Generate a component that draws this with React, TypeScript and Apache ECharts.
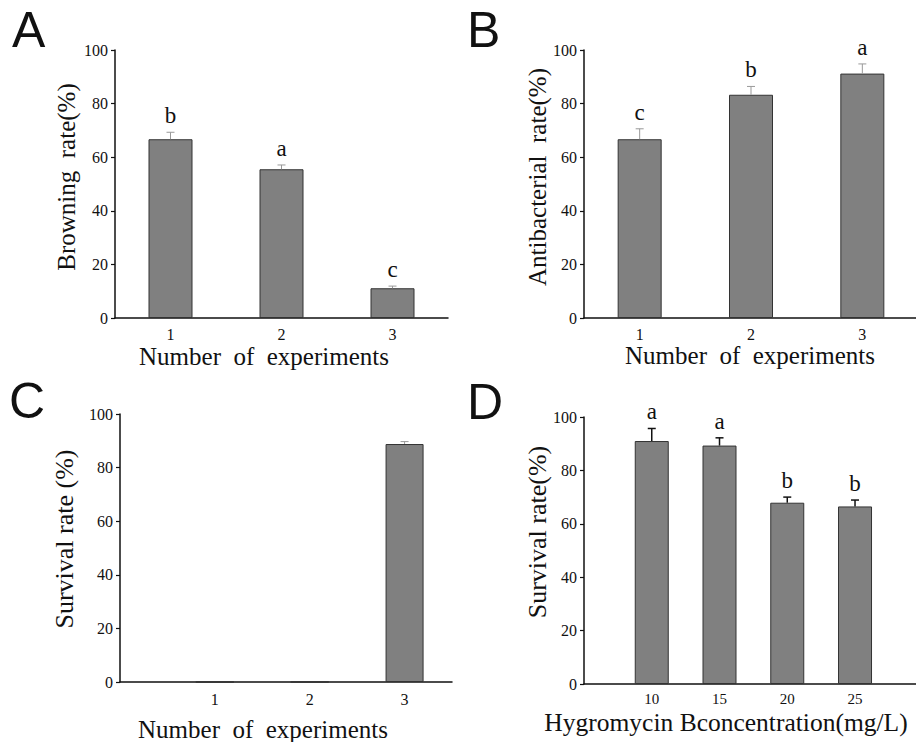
import React, { useEffect, useRef } from 'react';
import * as echarts from 'echarts';

// Panel A
const A_CATEGORIES = ['1', '2', '3'];
const A_VALUES = [66.7, 55.5, 11.1];
const A_ERRORS = [2.6, 1.6, 0.8];
const A_LETTERS = ['b', 'a', 'c'];

// Panel B
const B_CATEGORIES = ['1', '2', '3'];
const B_VALUES = [66.7, 83.3, 91.2];
const B_ERRORS = [3.9, 3.1, 3.6];
const B_LETTERS = ['c', 'b', 'a'];

// Panel C
const C_X = [1, 2, 3];
const C_VALUES = [0, 0, 88.8];
const C_ERRORS = [0, 0, 0.9];
const C_LETTERS = ['', '', ''];

// Panel D
const D_X = [10, 15, 20, 25];
const D_VALUES = [91.0, 89.3, 67.9, 66.5];
const D_ERRORS = [4.7, 2.9, 2.1, 2.4];
const D_LETTERS = ['a', 'a', 'b', 'b'];

const Y_MIN = 0;
const Y_MAX = 100;
const Y_STEP = 20;

const SERIF = 'Liberation Serif';
const SANS = 'Liberation Sans';

function yAxis(gridIndex: number) {
  return {
    type: 'value',
    gridIndex,
    min: Y_MIN,
    max: Y_MAX,
    interval: Y_STEP,
    axisLine: { show: true, lineStyle: { color: '#111', width: 1.5 } },
    axisTick: { show: true, length: 4, lineStyle: { color: '#111', width: 1.2 } },
    axisLabel: { fontFamily: SERIF, fontSize: 16, color: '#111', margin: 7 },
    splitLine: { show: false },
  };
}

function catXAxis(gridIndex: number, cats: string[]) {
  return {
    type: 'category',
    gridIndex,
    data: cats,
    axisLine: { show: true, lineStyle: { color: '#111', width: 1.5 } },
    axisTick: { show: false },
    axisLabel: { fontFamily: SERIF, fontSize: 16, color: '#111', margin: 8 },
    splitLine: { show: false },
  };
}

function valXAxis(
  gridIndex: number,
  min: number,
  max: number,
  interval: number,
  shown: number[],
  fontSize: number,
  margin: number
) {
  return {
    type: 'value',
    gridIndex,
    min,
    max,
    interval,
    axisLine: { show: true, onZero: false, lineStyle: { color: '#111', width: 1.5 } },
    axisTick: { show: false },
    axisLabel: {
      fontFamily: SERIF,
      fontSize,
      color: '#111',
      margin,
      formatter: (v: number) => (shown.indexOf(v) >= 0 ? String(v) : ''),
    },
    splitLine: { show: false },
  };
}

function barSeries(idx: number, data: any[], barWidth: number) {
  return {
    type: 'bar',
    xAxisIndex: idx,
    yAxisIndex: idx,
    data,
    barWidth,
    itemStyle: { color: '#808080', borderColor: '#333', borderWidth: 1 },
    z: 2,
  };
}

function errorSeries(
  idx: number,
  xs: number[],
  values: number[],
  errors: number[],
  letters: string[],
  color: string,
  lw: number
) {
  return {
    type: 'custom',
    xAxisIndex: idx,
    yAxisIndex: idx,
    data: xs.map((x, i) => [x, values[i], values[i] + errors[i]]),
    renderItem: (params: any, api: any) => {
      const i = params.dataIndex;
      const base = api.coord([api.value(0), api.value(1)]);
      const top = api.coord([api.value(0), api.value(2)]);
      const children: any[] = [];
      if (errors[i] > 0) {
        children.push({
          type: 'line',
          shape: { x1: base[0], y1: base[1], x2: top[0], y2: top[1] },
          style: { stroke: color, lineWidth: lw },
        });
        children.push({
          type: 'line',
          shape: { x1: top[0] - 4, y1: top[1], x2: top[0] + 4, y2: top[1] },
          style: { stroke: color, lineWidth: lw },
        });
      }
      if (letters[i]) {
        children.push({
          type: 'text',
          x: top[0],
          y: top[1] - 5,
          style: {
            text: letters[i],
            fontFamily: SERIF,
            fontSize: 23,
            fill: '#111',
            align: 'center',
            verticalAlign: 'bottom',
          },
        });
      }
      return { type: 'group', children };
    },
    z: 3,
  };
}

function label(text: string, x: number, y: number, size: number, rotate = false, family = SERIF, align = 'center') {
  return {
    type: 'text',
    x,
    y,
    rotation: rotate ? Math.PI / 2 : 0,
    style: {
      text,
      fontFamily: family,
      fontSize: size,
      fill: '#111',
      align,
      verticalAlign: 'middle',
    },
  };
}

export default function App() {
  const ref = useRef<HTMLDivElement>(null);

  useEffect(() => {
    if (!ref.current) return;
    const chart = echarts.init(ref.current, undefined, { renderer: 'svg' });
    const catIdx = (arr: string[]) => arr.map((_, i) => i);
    const option: any = {
      animation: false,
      backgroundColor: '#fff',
      textStyle: { fontFamily: SERIF },
      grid: [
        { left: 115, top: 50, width: 333, height: 268, outerBoundsMode: 'none' },
        { left: 584, top: 50, width: 334, height: 268, outerBoundsMode: 'none' },
        { left: 120, top: 414, width: 332, height: 268, outerBoundsMode: 'none' },
        { left: 584, top: 417, width: 332, height: 267, outerBoundsMode: 'none' },
      ],
      xAxis: [
        catXAxis(0, A_CATEGORIES),
        catXAxis(1, B_CATEGORIES),
        valXAxis(2, 0, 3.5, 1, C_X, 16, 9),
        valXAxis(3, 5, 29.5, 5, D_X, 15, 7),
      ],
      yAxis: [yAxis(0), yAxis(1), yAxis(2), yAxis(3)],
      series: [
        barSeries(0, A_VALUES, 44),
        barSeries(1, B_VALUES, 44),
        barSeries(2, C_X.map((x, i) => [x, C_VALUES[i]]), 38),
        barSeries(3, D_X.map((x, i) => [x, D_VALUES[i]]), 34),
        errorSeries(0, catIdx(A_CATEGORIES), A_VALUES, A_ERRORS, A_LETTERS, '#999', 1),
        errorSeries(1, catIdx(B_CATEGORIES), B_VALUES, B_ERRORS, B_LETTERS, '#999', 1),
        errorSeries(2, C_X, C_VALUES, C_ERRORS, C_LETTERS, '#999', 1),
        errorSeries(3, D_X, D_VALUES, D_ERRORS, D_LETTERS, '#111', 1.5),
      ],
      graphic: [
        label('A', 12, 30, 50, false, SANS, 'left'),
        label('B', 467, 30, 50, false, SANS, 'left'),
        label('C', 9, 401, 50, false, SANS, 'left'),
        label('D', 467, 402, 50, false, SANS, 'left'),
        label('Browning  rate(%)', 66, 177, 25, true),
        label('Number  of  experiments', 264, 356, 25),
        label('Antibacterial  rate(%)', 537, 177, 25, true),
        label('Number  of  experiments', 750, 355, 25),
        label('Survival rate (%)', 64, 539, 26, true),
        label('Number  of  experiments', 263, 729, 25),
        label('Survival rate(%)', 537, 532, 26, true),
        label('Hygromycin Bconcentration(mg/L)', 726, 722.5, 25.5),
      ],
    };
    chart.setOption(option);
    return () => chart.dispose();
  }, []);

  return (
    <div
      ref={ref}
      style={{ position: 'fixed', left: 0, top: 0, width: 916, height: 742, background: '#fff' }}
    />
  );
}
